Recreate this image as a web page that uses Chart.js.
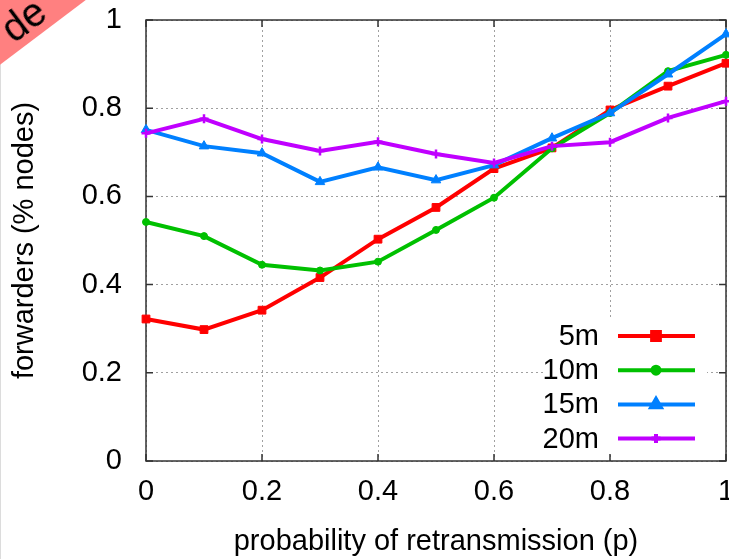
<!DOCTYPE html>
<html>
<head>
<meta charset="utf-8">
<title>forwarders vs probability of retransmission</title>
<script src="https://cdn.jsdelivr.net/npm/chart.js@4.4.0/dist/chart.umd.min.js"></script>
<style>
    html, body { margin: 0; padding: 0; background: #fff; overflow: hidden; }
    #wrap { position: relative; width: 729px; height: 559px; overflow: hidden; }
    #edge { position: absolute; left: 0; top: 0; width: 1px; height: 559px; background: #dcdcdc; }
    #ribbon {
        position: absolute; left: -110px; top: -9px; width: 260px; height: 52px;
        line-height: 52px; background: #ff8080; color: #000; text-align: center;
        font: 40px "Liberation Sans", Arial, sans-serif;
        transform: rotate(-37deg);
    }
    #ribbon span { position: relative; top: 8px; left: 1px; }
    canvas { position: absolute; left: 0; top: 0; }
</style>
</head>
<body>
<div id="wrap">
    <canvas id="chart" width="729" height="559"></canvas>
    <div id="edge"></div>
    <div id="ribbon"><span>de</span></div>
</div>
<script>
// 数据
const pValues = [0, 0.1, 0.2, 0.3, 0.4, 0.5, 0.6, 0.7, 0.8, 0.9, 1];
const fwd5m  = [0.322, 0.298, 0.342, 0.416, 0.503, 0.575, 0.663, 0.710, 0.796, 0.850, 0.902];
const fwd10m = [0.542, 0.510, 0.445, 0.432, 0.452, 0.524, 0.597, 0.709, 0.789, 0.884, 0.921];
const fwd15m = [0.751, 0.714, 0.698, 0.633, 0.666, 0.637, 0.671, 0.732, 0.789, 0.877, 0.968];
const fwd20m = [0.743, 0.776, 0.730, 0.703, 0.724, 0.696, 0.676, 0.714, 0.723, 0.778, 0.816];
const tickValues = [0, 0.2, 0.4, 0.6, 0.8, 1];
const seriesNames = ['5m', '10m', '15m', '20m'];

const FONT = '"Liberation Sans", Arial, sans-serif';
const seriesColors = ['#ff0000', '#00c000', '#0080ff', '#c000ff'];
const pointStyles = [
    { pointStyle: 'rect', radius: 5.5, borderWidth: 1 },
    { pointStyle: 'circle', radius: 3.5, borderWidth: 1 },
    { pointStyle: 'triangle', radius: 5.5, borderWidth: 1 },
    { pointStyle: 'cross', radius: 4.5, borderWidth: 2.5 }
];

function toPoints(values) {
    return values.map((v, i) => ({ x: pValues[i], y: v }));
}

// 刻度文字: 0, 0.2 ... 1
function tickText(v) {
    return String(+(+v).toFixed(1));
}

// 边框和向内刻度
const frameAndTicks = {
    id: 'frameAndTicks',
    beforeDatasetsDraw(chart) {
        const { ctx, chartArea: a, scales: { x, y } } = chart;
        ctx.save();
        ctx.strokeStyle = '#333';
        ctx.lineWidth = 1.5;
        ctx.beginPath();
        tickValues.forEach(v => {
            const px = x.getPixelForValue(v);
            const py = y.getPixelForValue(v);
            ctx.moveTo(px, a.bottom); ctx.lineTo(px, a.bottom - 7);
            ctx.moveTo(px, a.top); ctx.lineTo(px, a.top + 7);
            ctx.moveTo(a.left, py); ctx.lineTo(a.left + 7, py);
            ctx.moveTo(a.right, py); ctx.lineTo(a.right - 7, py);
        });
        ctx.stroke();
        ctx.strokeRect(a.left, a.top, a.right - a.left, a.bottom - a.top);
        ctx.restore();
    }
};

function drawMarker(ctx, style, x, y) {
    if (Chart.helpers && Chart.helpers.drawPoint) {
        Chart.helpers.drawPoint(ctx, { pointStyle: style.pointStyle, radius: style.radius, rotation: 0, borderWidth: style.borderWidth }, x, y);
        return;
    }
    ctx.beginPath();
    ctx.arc(x, y, style.radius, 0, Math.PI * 2);
    ctx.fill();
}

// 图例 (在绘图区内右下角)
const keyBox = {
    id: 'keyBox',
    afterDatasetsDraw(chart) {
        const { ctx, chartArea: a } = chart;
        const boxRight = a.right - 19;
        const boxBottom = a.bottom - 9;
        ctx.save();
        ctx.fillStyle = '#fff';
        ctx.fillRect(boxRight - 162, boxBottom - 134, 162, 134);
        ctx.font = '29px ' + FONT;
        ctx.textAlign = 'right';
        ctx.textBaseline = 'middle';
        chart.data.datasets.forEach((ds, i) => {
            const rowY = a.bottom - 125 + i * 34.2;
            ctx.fillStyle = '#000';
            ctx.fillText(ds.label, a.right - 127, rowY + 1);
            ctx.strokeStyle = ds.borderColor;
            ctx.lineWidth = ds.borderWidth;
            ctx.beginPath();
            ctx.moveTo(a.right - 108, rowY);
            ctx.lineTo(a.right - 31, rowY);
            ctx.stroke();
            ctx.fillStyle = ds.borderColor;
            drawMarker(ctx, pointStyles[i], a.right - 70, rowY);
        });
        ctx.restore();
    }
};

const datasets = [fwd5m, fwd10m, fwd15m, fwd20m].map((vals, i) => ({
    label: seriesNames[i],
    data: toPoints(vals),
    borderColor: seriesColors[i],
    backgroundColor: seriesColors[i],
    borderWidth: 4,
    tension: 0,
    pointStyle: pointStyles[i].pointStyle,
    pointRadius: pointStyles[i].radius,
    pointBorderWidth: pointStyles[i].borderWidth,
    pointBackgroundColor: seriesColors[i],
    pointBorderColor: seriesColors[i],
    order: 3 - i,
    clip: 10
}));

const axisFont = { family: FONT, size: 29 };

new Chart(document.getElementById('chart'), {
    type: 'line',
    data: { datasets },
    plugins: [frameAndTicks, keyBox],
    options: {
        responsive: false,
        animation: false,
        devicePixelRatio: 1,
        layout: { autoPadding: false, padding: { top: 20, right: 3, left: 0, bottom: 0 } },
        plugins: { legend: { display: false }, tooltip: { enabled: false } },
        scales: {
            x: {
                type: 'linear',
                min: 0, max: 1,
                ticks: { stepSize: 0.2, padding: 14, color: '#000', font: axisFont, maxRotation: 0, autoSkip: false, callback: tickText },
                grid: { color: '#a0a0a0', lineWidth: 1, drawTicks: false },
                border: { display: false, dash: [2, 3] },
                title: { display: true, text: 'probability of retransmission (p)', color: '#000', font: axisFont, padding: { top: 0, bottom: 0 } },
                afterFit(scale) {
                    scale.height = 98;
                    scale.paddingLeft = 0;
                    scale.paddingRight = 0;
                }
            },
            y: {
                type: 'linear',
                min: 0, max: 1,
                ticks: { stepSize: 0.2, padding: 24, color: '#000', font: axisFont, callback: tickText },
                grid: { color: '#a0a0a0', lineWidth: 1, drawTicks: false },
                border: { display: false, dash: [2, 3] },
                title: { display: true, text: 'forwarders (% nodes)', color: '#000', font: axisFont, padding: { top: 8, bottom: 0 } },
                afterFit(scale) {
                    scale.width = 146;
                    scale.paddingTop = 0;
                    scale.paddingBottom = 0;
                }
            }
        }
    }
});
</script>
</body>
</html>
